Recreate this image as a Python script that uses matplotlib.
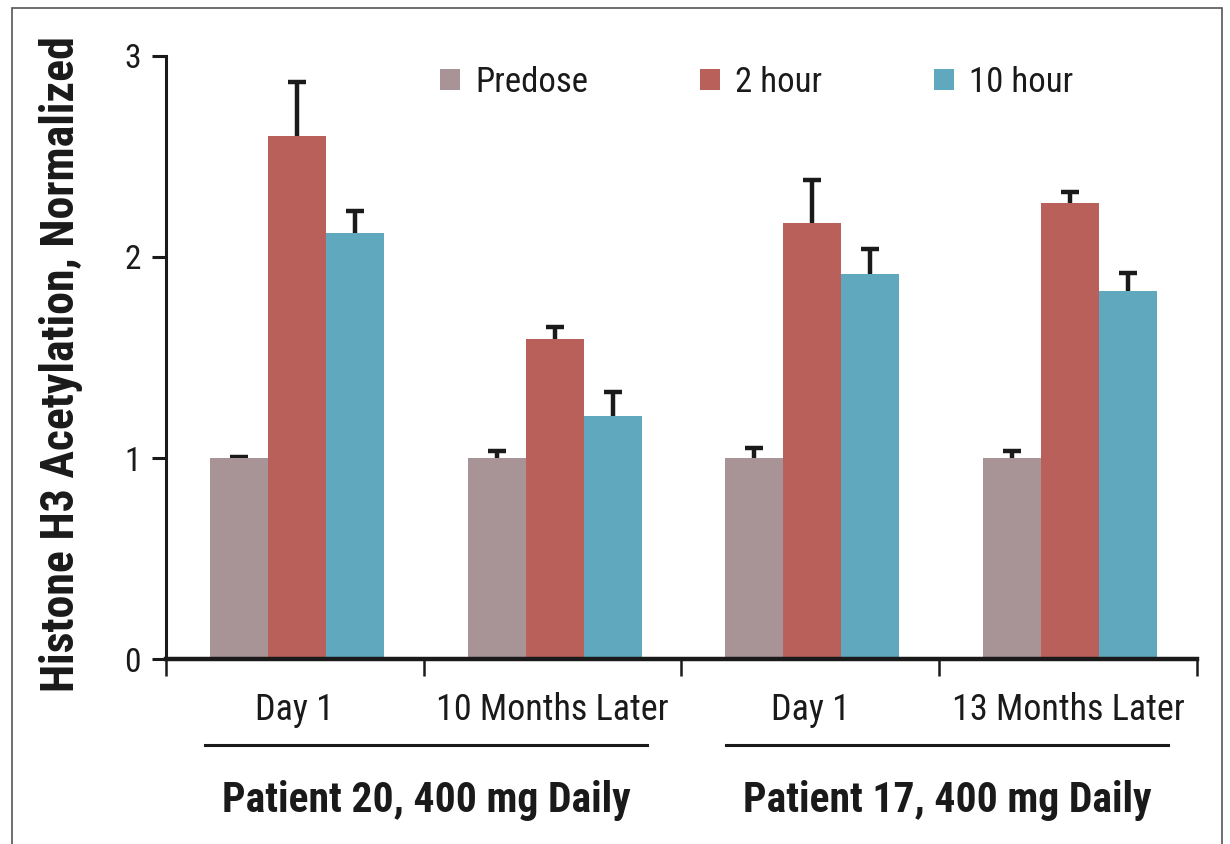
import numpy as np
import matplotlib.pyplot as plt
from matplotlib import font_manager
from matplotlib.patches import Rectangle

# prefer a condensed grotesque for all labels
_installed = {f.name for f in font_manager.fontManager.ttflist}
_wanted = ["Roboto Condensed", "Archivo Narrow", "PT Sans Narrow", "DejaVu Sans"]
plt.rcParams['font.family'] = [f for f in _wanted if f in _installed]

visits   = ["Day 1", "10 Months Later", "Day 1", "13 Months Later"]
series   = ["Predose", "2 hour", "10 hour"]
predose  = [1.00, 1.00, 1.00, 1.00]
hour2    = [2.60, 1.59, 2.17, 2.27]
hour10   = [2.12, 1.21, 1.915, 1.83]
err_pre  = [0.005, 0.035, 0.05, 0.035]
err_2h   = [0.27, 0.06, 0.21, 0.05]
err_10h  = [0.11, 0.12, 0.125, 0.09]
patients = ["Patient 20, 400 mg Daily", "Patient 17, 400 mg Daily"]
colors   = ["#a89497", "#b9605a", "#5fa8bd"]
ink      = "#1a1a1a"

fig = plt.figure(figsize=(12.3, 8.44), dpi=100)
ax = fig.add_axes([0.135, 0.219, 0.838, 0.715])

x = np.arange(len(visits))
w = 0.225
vals = [predose, hour2, hour10]
errs = [err_pre, err_2h, err_10h]
for i, (v, e, c, lab) in enumerate(zip(vals, errs, colors, series)):
    xi = x + (i - 1) * w + 0.008
    ax.bar(xi, v, w, color=c, label=lab, zorder=2)
    # upper error only; the lower cap sits hidden under the bar top
    ax.errorbar(xi, v, yerr=e, fmt="none", ecolor=ink, elinewidth=3.2,
                capsize=6.5, capthick=3.2, zorder=1)

ax.set_xlim(-0.5, 3.5)
ax.set_ylim(0, 3)
for s in ("top", "right"):
    ax.spines[s].set_visible(False)
ax.spines["left"].set_linewidth(2.2)
ax.spines["bottom"].set_linewidth(3.2)
ax.spines["left"].set_color(ink)
ax.spines["bottom"].set_color(ink)

ax.set_yticks([0, 1, 2, 3])
ax.tick_params(axis="y", direction="out", length=10, width=2.2, labelsize=24, pad=8,
               colors=ink)
ax.set_xticks(np.arange(-0.5, 4.0, 1.0))
ax.set_xticklabels([])
ax.tick_params(axis="x", which="major", direction="out", length=12, width=1.8,
               colors=ink)
ax.set_xticks(x, minor=True)
ax.set_xticklabels(visits, minor=True)
ax.tick_params(axis="x", which="minor", length=0, labelsize=26, pad=24,
               labelcolor=ink)

# patient brackets under the visit labels
trans = ax.get_xaxis_transform()
for cx, name in zip([0.51, 2.53], patients):
    ax.plot([cx - 0.857, cx + 0.857], [-0.143, -0.143], color=ink, lw=2.2,
            transform=trans, clip_on=False)
    ax.text(cx, -0.234, name, transform=trans, ha="center", va="center",
            fontsize=30, fontweight="bold", color=ink)

fig.text(0.05, 1 - 364 / 844, "Histone H3 Acetylation, Normalized", rotation=90,
         ha="center", va="center", fontsize=33, fontweight="bold", color=ink)

ax.legend(loc="center left", bbox_to_anchor=(0.249, 0.956), ncol=3, frameon=False,
          fontsize=25, borderpad=0, handlelength=0.58, handleheight=0.58,
          handletextpad=0.43, columnspacing=3.22, labelcolor=ink)

# outer frame
fig.patches.append(Rectangle((12 / 1230, -0.05), 1210 / 1230, 1.05 - 8 / 844,
                             transform=fig.transFigure, fill=False,
                             edgecolor="#555555", lw=1.2))

fig.savefig("out.png", dpi=100)
